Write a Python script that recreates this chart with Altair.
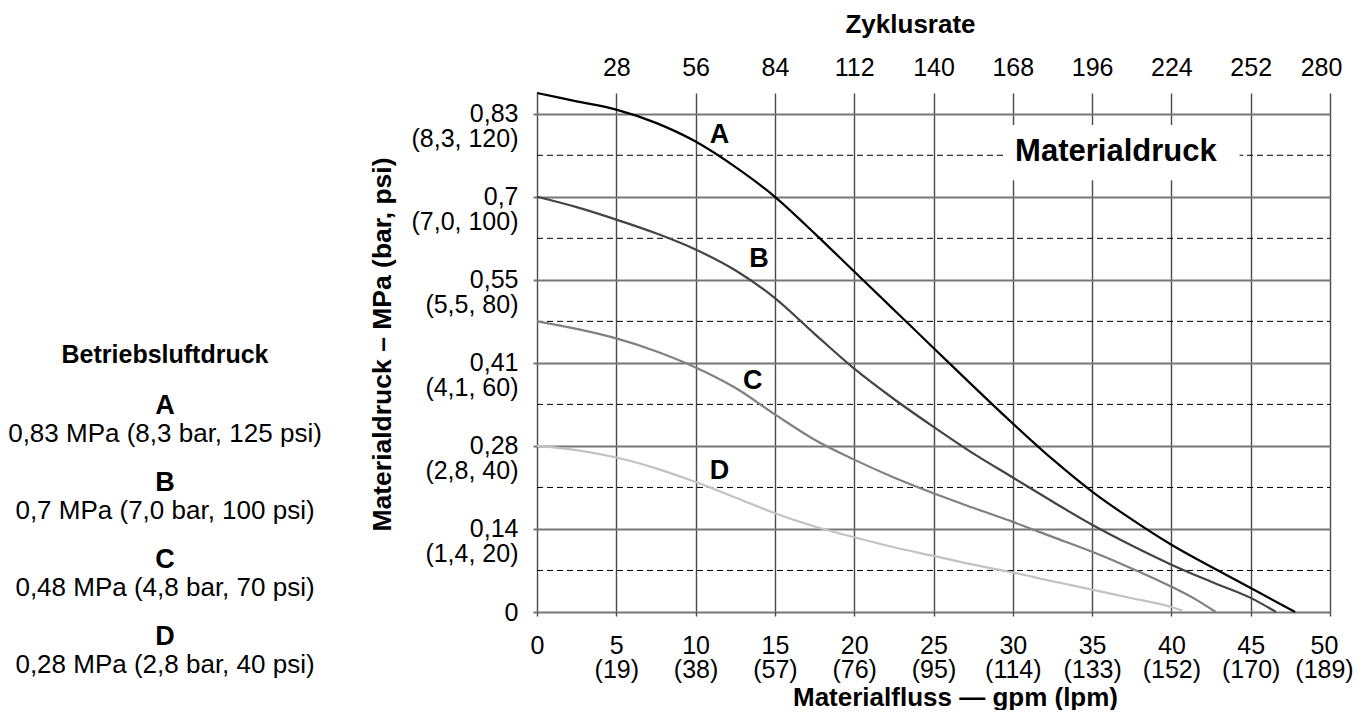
import json
import altair as alt
import pandas as pd

FONT = "Liberation Sans"

# ---------------- data ----------------
gpm_ticks = [0, 5, 10, 15, 20, 25, 30, 35, 40, 45, 50]
lpm_labels = ["", "19", "38", "57", "76", "95", "114", "133", "152", "170", "189"]
cycle_ticks = [5, 10, 15, 20, 25, 30, 35, 40, 45, 50]
cycle_labels = ["28", "56", "84", "112", "140", "168", "196", "224", "252", "280"]
psi_ticks = [0, 20, 40, 60, 80, 100, 120]
mpa_labels = ["0", "0,14", "0,28", "0,41", "0,55", "0,7", "0,83"]
barpsi_labels = ["", "(1,4, 20)", "(2,8, 40)", "(4,1, 60)", "(5,5, 80)", "(7,0, 100)", "(8,3, 120)"]
psi_dash = [10, 30, 50, 70, 90, 110]

curve_A_gpm = [0, 2.5, 5, 7.5, 10, 12.5, 15, 17.5, 20, 22.5, 25, 27.5, 30, 32.5, 35, 37.5, 40, 42.5, 45, 47.8]
curve_A_psi = [125, 123, 121, 117.8, 113.3, 107.2, 100, 91.2, 82, 72.8, 63.6, 54.4, 45.4, 36.8, 29.0, 22.3, 16.2, 10.9, 5.8, 0]
curve_B_gpm = [0, 2.5, 5, 7.5, 10, 12.5, 15, 17.5, 20, 22.5, 25, 27.5, 30, 32.5, 35, 37.5, 40, 42.5, 45, 46.6]
curve_B_psi = [100, 97.5, 94.5, 91.2, 87.3, 82.3, 75.6, 67.0, 58.6, 51.3, 44.6, 38.2, 32.4, 26.6, 21.0, 16.0, 11.4, 7.3, 3.4, 0]
curve_C_gpm = [0, 2.5, 5, 7.5, 10, 12.5, 15, 17.5, 20, 22.5, 25, 27.5, 30, 32.5, 35, 37.5, 40, 41.5, 42.8]
curve_C_psi = [70, 68.2, 65.9, 62.8, 58.9, 54, 47.6, 41.5, 36.7, 32.4, 28.6, 25.1, 21.7, 18.1, 14.5, 10.5, 6.1, 3.1, 0]
curve_D_gpm = [0, 2.5, 5, 7.5, 10, 12.5, 15, 17.5, 20, 22.5, 25, 27.5, 30, 32.5, 35, 37.5, 40, 40.7]
curve_D_psi = [40, 39, 37.2, 34.6, 31.3, 27.6, 23.8, 20.6, 18, 15.6, 13.5, 11.4, 9.5, 7.4, 5.4, 3.3, 1.2, 0.3]

curve_names = ["A", "B", "C", "D"]
curve_colors = ["#000000", "#444444", "#808080", "#c2c2c2"]

label_gpm = [11.5, 14.0, 13.6, 11.5]
label_psi = [114.8, 85.1, 55.7, 33.9]

legend_title = "Betriebsluftdruck"
legend_desc = [
    "0,83 MPa (8,3 bar, 125 psi)",
    "0,7 MPa (7,0 bar, 100 psi)",
    "0,48 MPa (4,8 bar, 70 psi)",
    "0,28 MPa (2,8 bar, 40 psi)",
]

panel_title = "Materialdruck"
panel_title_gpm = [36.5]
panel_title_psi = [110.8]
panel_box_gpm = [29.5, 44.3]
panel_box_psi = [104.0, 117.3]

# ---------------- tables ----------------
rows = []
for name, xs, ys in [("A", curve_A_gpm, curve_A_psi), ("B", curve_B_gpm, curve_B_psi),
                     ("C", curve_C_gpm, curve_C_psi), ("D", curve_D_gpm, curve_D_psi)]:
    for i, (x, y) in enumerate(zip(xs, ys)):
        rows.append({"curve": name, "gpm": x, "psi": y, "order": i})
curves_df = pd.DataFrame(rows)
dash_df = pd.DataFrame({"psi": psi_dash, "x0": [gpm_ticks[0]] * len(psi_dash), "x1": [gpm_ticks[-1]] * len(psi_dash)})
labels_df = pd.DataFrame({"curve": curve_names, "gpm": label_gpm, "psi": label_psi})
panel_df = pd.DataFrame({"t": [panel_title], "gpm": panel_title_gpm, "psi": panel_title_psi})
box_df = pd.DataFrame({"x0": [panel_box_gpm[0]], "x1": [panel_box_gpm[1]], "y0": [panel_box_psi[0]], "y1": [panel_box_psi[1]]})
one_df = pd.DataFrame({"k": [0]})

xscale = alt.Scale(domain=[0, 50], nice=False, zero=False)
yscale = alt.Scale(domain=[0, 125], nice=False, zero=False)

mpa_js = json.dumps(mpa_labels)
bp_js = json.dumps(barpsi_labels)
lpm_js = json.dumps(lpm_labels)
cyc_js = json.dumps(cycle_labels)

y_axis = alt.Axis(
    orient="left", values=psi_ticks,
    labelExpr=f"datum.value == 0 ? {mpa_js}[0] : [{mpa_js}[round(datum.value/20)], {bp_js}[round(datum.value/20)]]",
    grid=True, gridColor="#777777", gridWidth=2,
    domain=False, ticks=True, tickSize=4, tickColor="#777777", tickWidth=2,
    labelFont=FONT, labelFontSize=25, labelColor="black", labelAlign="right", labelBaseline="middle",
    labelPadding=15, labelLineHeight=25, labelOverlap=False, labelFlush=False,
    title="Materialdruck – MPa (bar, psi)", titleFont=FONT, titleFontSize=26.5, titleFontWeight="bold",
    titleColor="black", titleAngle=270, titleX=-155, titleY=251, titleAlign="center", titleBaseline="middle",
)

bottom_axis = alt.Axis(
    orient="bottom", values=gpm_ticks,
    labelExpr=f"datum.value == 0 ? '0' : [format(datum.value, 'd'), '(' + {lpm_js}[round(datum.value/5)] + ')']",
    grid=True, gridColor="#4a4a4a", gridWidth=1.4,
    domain=False, ticks=True, tickSize=4, tickColor="#4a4a4a", tickWidth=1.4,
    labelFont=FONT, labelFontSize=25, labelColor="black", labelAlign="center", labelBaseline="top",
    labelPadding=17, labelLineHeight=24, labelOverlap=False, labelFlush=False,
    labelOffset={"condition": {"test": "datum.value == 50", "value": -6}, "value": 0},
    title="Materialfluss — gpm (lpm)", titleFont=FONT, titleFontSize=26, titleFontWeight="bold",
    titleColor="black", titleX=418, titleY=93, titleAlign="center", titleBaseline="alphabetic",
)

top_axis = alt.Axis(
    orient="top", values=cycle_ticks,
    labelExpr=f"{cyc_js}[round(datum.value/5) - 1]",
    grid=False, domain=False, ticks=False, tickSize=0,
    labelFont=FONT, labelFontSize=25, labelColor="black", labelAlign="center", labelBaseline="bottom",
    labelPadding=13, labelOverlap=False, labelFlush=False,
    labelOffset={"condition": {"test": "datum.value == 50", "value": -9}, "value": 0},
    title="Zyklusrate", titleFont=FONT, titleFontSize=26, titleFontWeight="bold",
    titleColor="black", titleX=373, titleY=-61, titleAlign="center", titleBaseline="alphabetic",
)

dashes = alt.Chart(dash_df).mark_rule(color="black", strokeWidth=1, strokeDash=[6, 4]).encode(
    x=alt.X("x0:Q", scale=xscale, axis=top_axis),
    x2="x1:Q",
    y=alt.Y("psi:Q", scale=yscale, axis=None),
)

box = alt.Chart(box_df).mark_rect(color="white").encode(
    x=alt.X("x0:Q", scale=xscale, axis=None),
    x2="x1:Q",
    y=alt.Y("y0:Q", scale=yscale, axis=None),
    y2="y1:Q",
)

lines = alt.Chart(curves_df).mark_line(strokeWidth=2.2, interpolate="monotone").encode(
    x=alt.X("gpm:Q", scale=xscale, axis=bottom_axis),
    y=alt.Y("psi:Q", scale=yscale, axis=y_axis),
    color=alt.Color("curve:N", scale=alt.Scale(domain=curve_names, range=curve_colors), legend=None),
    order="order:Q",
)

curve_labels = alt.Chart(labels_df).mark_text(
    font=FONT, fontSize=27, fontWeight="bold", color="black", align="center", baseline="middle"
).encode(
    x=alt.X("gpm:Q", scale=xscale, axis=None),
    y=alt.Y("psi:Q", scale=yscale, axis=None),
    text="curve:N",
)

panel_text = alt.Chart(panel_df).mark_text(
    font=FONT, fontSize=31, fontWeight="bold", color="black", align="center", baseline="middle"
).encode(
    x=alt.X("gpm:Q", scale=xscale, axis=None),
    y=alt.Y("psi:Q", scale=yscale, axis=None),
    text="t:N",
)

legend_head = alt.Chart(one_df).mark_text(
    font=FONT, fontSize=25, fontWeight="bold", color="black", align="center", baseline="middle",
    text=legend_title,
).encode(x=alt.value(-372), y=alt.value(262))

legend_letters = alt.Chart(one_df).mark_text(
    font=FONT, fontSize=27, fontWeight="bold", color="black", align="center", baseline="middle",
    lineHeight=77, text=curve_names,
).encode(x=alt.value(-372), y=alt.value(313))

legend_lines = alt.Chart(one_df).mark_text(
    font=FONT, fontSize=26, color="black", align="center", baseline="middle",
    lineHeight=77, text=legend_desc,
).encode(x=alt.value(-372), y=alt.value(341))

chart = alt.layer(
    dashes, box, lines, curve_labels, panel_text, legend_head, legend_letters, legend_lines
).resolve_axis(x="independent", y="independent").properties(
    width=793, height=519,
    autosize=alt.AutoSizeParams(type="none"),
    padding={"left": 529, "top": 85, "right": 25, "bottom": 98},
    background="white",
).configure_view(strokeWidth=0)

chart.save("out.html", embed_options={"renderer": "svg", "actions": False})
